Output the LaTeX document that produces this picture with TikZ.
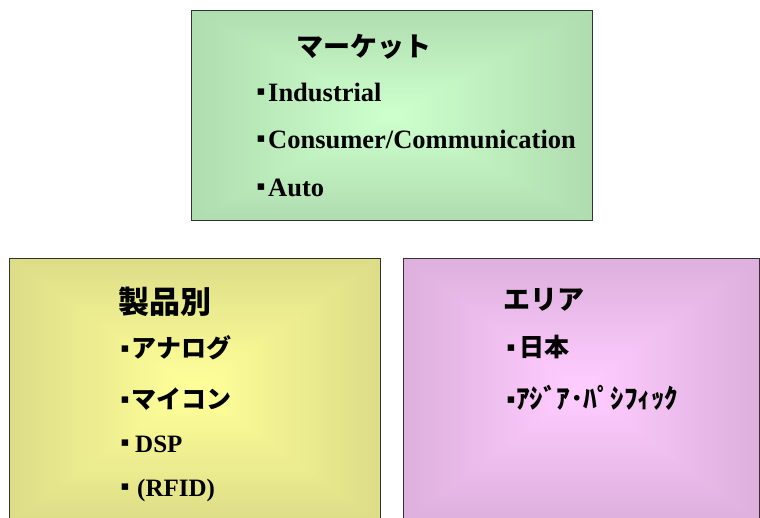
\documentclass[tikz,border=0pt]{standalone}
\usepackage{fontspec}
\setmainfont{Liberation Serif}
\newfontfamily\jp{Noto Sans CJK JP}
\newfontfamily\dv{DejaVu Sans}
\definecolor{gout}{RGB}{176,221,176}
\definecolor{gin}{RGB}{204,255,204}
\definecolor{yout}{RGB}{221,221,136}
\definecolor{yin}{RGB}{255,255,153}
\definecolor{pout}{RGB}{221,176,221}
\definecolor{pin}{RGB}{255,204,255}
\definecolor{edge}{RGB}{50,50,50}
\newcommand{\gradbox}[6]{%
  \foreach \i in {0,...,40}{%
    \pgfmathsetmacro{\p}{2.5*\i}%
    \pgfmathsetmacro{\ax}{#1+(#3-#1)/2*\i/42}%
    \pgfmathsetmacro{\ay}{#2+(#4-#2)/2*\i/42}%
    \pgfmathsetmacro{\bx}{#3-(#3-#1)/2*\i/42}%
    \pgfmathsetmacro{\by}{#4-(#4-#2)/2*\i/42}%
    \fill[#6!\p!#5] (\ax,\ay) rectangle (\bx,\by);
  }}
% bullet: #1 = box width, #2 = raise
\newcommand{\bul}[2]{\makebox[#1][l]{\raisebox{#2}{\dv\fontsize{13}{13}\selectfont ▪}}}
\tikzset{
  box/.style={draw=edge, line width=1pt, inner sep=0pt, fill=none},
  title/.style={anchor=base west, inner sep=0pt, font=\jp\bfseries\fontsize{27}{27}\selectfont},
  jitem/.style={anchor=base west, inner sep=0pt, font=\jp\bfseries\fontsize{25}{25}\selectfont},
  litem/.style={anchor=base west, inner sep=0pt, font=\bfseries\fontsize{26.5}{26.5}\selectfont},
}
\begin{document}
\begin{tikzpicture}[x=1pt,y=-1pt]
\useasboundingbox (0,0) rectangle (760,517);
\clip (0,0) rectangle (760,517);
\fill[white] (0,0) rectangle (760,517);
% gradients
\gradbox{191}{10}{592}{220}{gout}{gin}
\gradbox{9}{258}{380}{522}{yout}{yin}
\gradbox{403}{258}{759}{522}{pout}{pin}
% boxes
\node[box, minimum width=401pt, minimum height=210pt] (market) at (391.5,115) {};
\node[box, minimum width=371pt, minimum height=264pt] (product) at (194.5,390) {};
\node[box, minimum width=356pt, minimum height=264pt] (area) at (581,390) {};
% market texts
\node[title] (mt) at (296.5,56) {マーケット};
\node[litem] (m1) at (256.5,101) {\bul{11.5pt}{6pt}Industrial};
\node[litem] (m2) at (256.5,148) {\bul{11.5pt}{6pt}Consumer/Communication};
\node[litem] (m3) at (256.5,196) {\bul{11.5pt}{6pt}Auto};
% product texts
\node[title, font=\jp\bfseries\fontsize{31}{31}\selectfont] (pt) at (118,313) {製品別};
\node[jitem] (p1) at (120.5,357) {\bul{11pt}{4.5pt}アナログ};
\node[jitem] (p2) at (120.5,408) {\bul{11pt}{4.5pt}マイコン};
\node[litem, font=\bfseries\fontsize{25}{25}\selectfont] (p3) at (120.5,452) {\bul{14.5pt}{5.5pt}DSP};
\node[litem, font=\bfseries\fontsize{25}{25}\selectfont] (p4) at (120.5,496) {\bul{16.5pt}{5.5pt}(RFID)};
% area texts
\node[title] (at) at (503,309) {エリア};
\node[jitem] (a1) at (506.5,356) {\bul{12.5pt}{4.5pt}日本};
\node[jitem, font=\jp\bfseries\fontsize{27}{27}\selectfont] (a2) at (506.5,408) {\bul{9.5pt}{4.5pt}ｱｼﾞｱ･ﾊﾟｼﾌｨｯｸ};
\end{tikzpicture}
\end{document}
